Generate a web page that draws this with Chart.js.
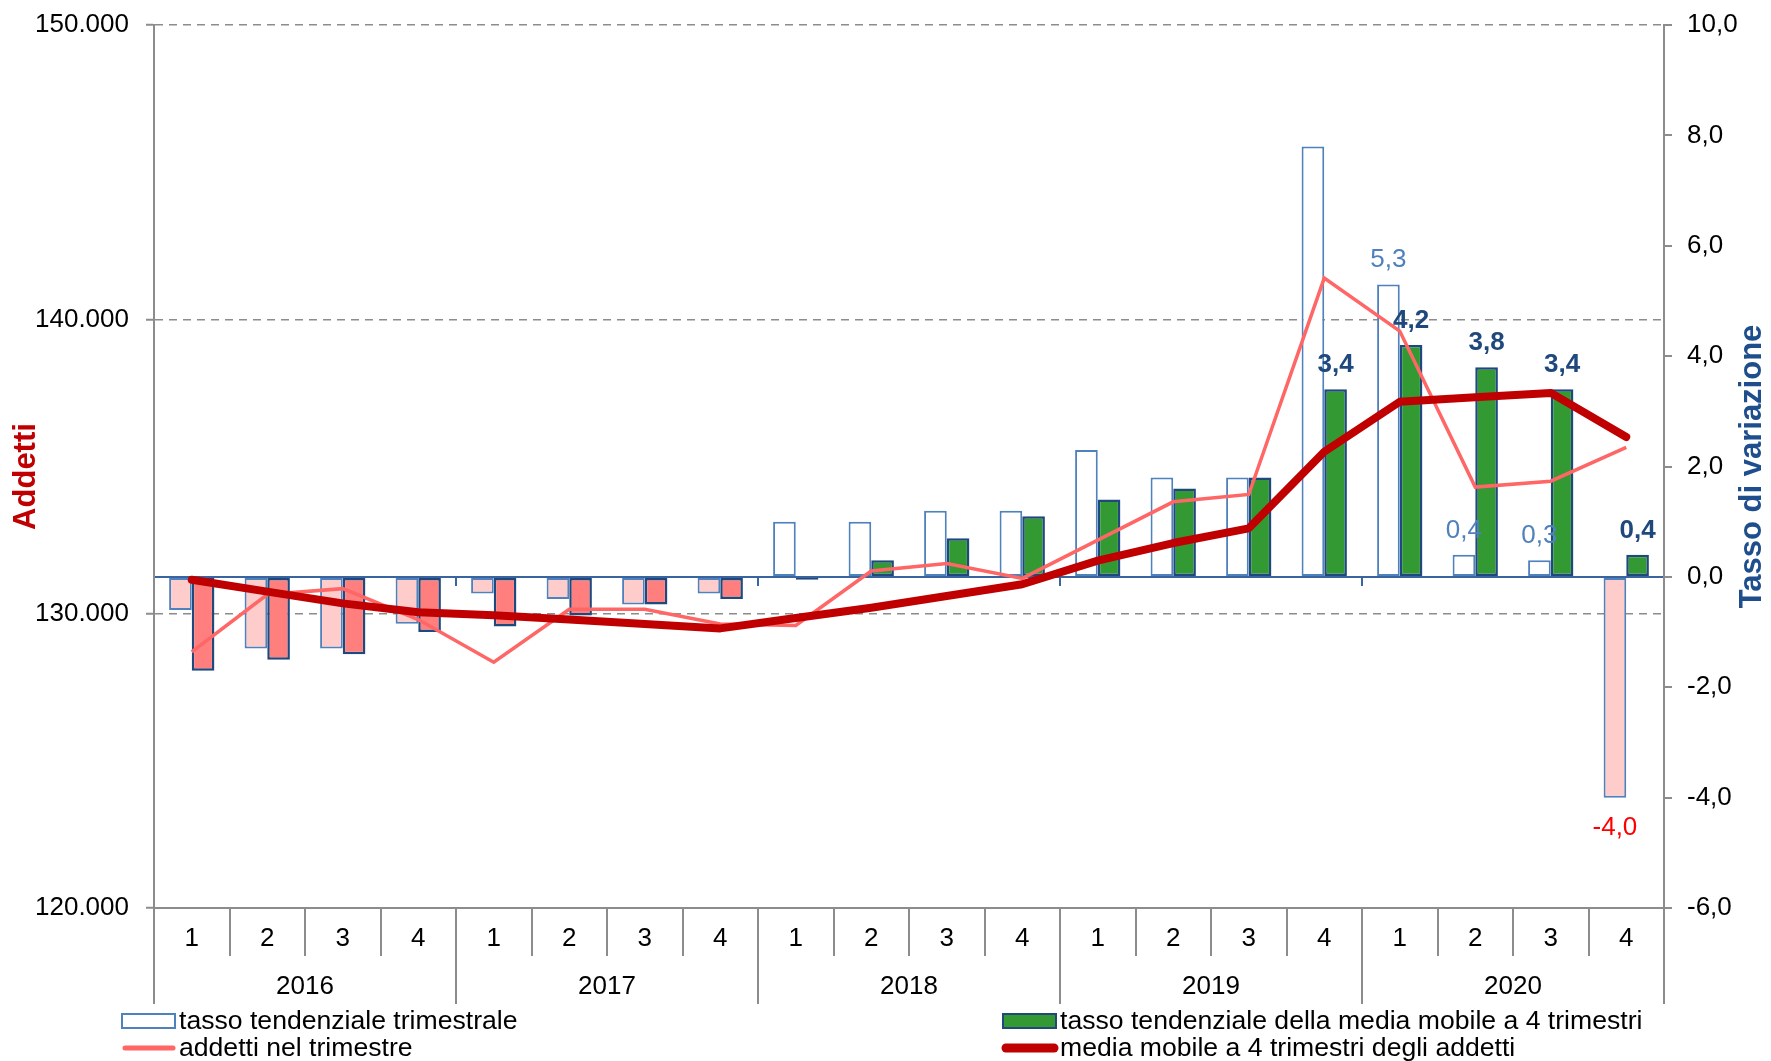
<!DOCTYPE html>
<html>
<head>
<meta charset="utf-8">
<script src="https://cdn.jsdelivr.net/npm/chart.js@4.4.1/dist/chart.umd.min.js"></script>
<style>
  html, body { margin: 0; padding: 0; background: #fff; }
  #wrap { width: 1771px; height: 1061px; position: relative; }
</style>
</head>
<body>
<div id="wrap"><canvas id="chart"></canvas></div>
<script>
const quarters = ["1", "2", "3", "4", "1", "2", "3", "4", "1", "2", "3", "4", "1", "2", "3", "4", "1", "2", "3", "4"];
const years = ["2016", "2017", "2018", "2019", "2020"];

// tassi (asse destro, %)
const tassoTrimestrale = [-0.6, -1.3, -1.3, -0.85, -0.3, -0.4, -0.5, -0.3, 1.0, 1.0, 1.2, 1.2, 2.3, 1.8, 1.8, 7.8, 5.3, 0.4, 0.3, -4.0];
const tassoMediaMobile = [-1.7, -1.5, -1.4, -1.0, -0.9, -0.7, -0.5, -0.4, -0.05, 0.3, 0.7, 1.1, 1.4, 1.6, 1.8, 3.4, 4.2, 3.8, 3.4, 0.4];

// addetti (asse sinistro)
const addettiTrimestre = [128700, 130650, 130850, 129800, 128350, 130150, 130150, 129650, 129600, 131450, 131700, 131200, 132500, 133800, 134050, 141400, 139600, 134300, 134500, 135650];
const mediaMobileAddetti = [131150, 130750, 130350, 130050, 129950, 129800, 129650, 129500, 129850, 130200, 130600, 131000, 131800, 132400, 132900, 135500, 137200, 137350, 137500, 136000];

// etichette mostrate sulle barre (indici)
const labelledTrimestrale = [16, 17, 18, 19];
const labelledMediaMobile = [15, 16, 17, 18, 19];

const FONT = '"Liberation Sans", Arial, sans-serif';
Chart.defaults.font.family = FONT;
Chart.defaults.font.size = 26;
Chart.defaults.color = "#000";

const GRAY = "#8c8c8c";
const BLUE_LIGHT = "#4F81BD";
const BLUE_DARK = "#1F497D";

function fmtThousands(v) {
  return Math.round(v).toString().replace(/\B(?=(\d{3})+(?!\d))/g, ".");
}
function fmtDec(v) {
  return v.toFixed(1).replace(".", ",");
}

const extras = {
  id: "extras",
  afterDatasetsDraw(chart) {
    const ctx = chart.ctx;
    const x = chart.scales.x;
    const y2 = chart.scales.y2;
    const zeroY = y2.getPixelForValue(0);

    // tacche degli anni sulla linea dello zero
    ctx.save();
    ctx.strokeStyle = "#3A64A0";
    ctx.lineWidth = 2;
    for (let i = 4; i < quarters.length; i += 4) {
      const px = (x.getPixelForValue(i - 1) + x.getPixelForValue(i)) / 2;
      ctx.beginPath();
      ctx.moveTo(px, zeroY);
      ctx.lineTo(px, zeroY + 9);
      ctx.stroke();
    }

    // etichette dati
    ctx.textAlign = "center";
    ctx.textBaseline = "alphabetic";
    const metaA = chart.getDatasetMeta(0);
    labelledTrimestrale.forEach((i) => {
      const el = metaA.data[i];
      const v = tassoTrimestrale[i];
      ctx.font = "26px " + FONT;
      if (v < 0) {
        ctx.fillStyle = "#FF0000";
        ctx.fillText(fmtDec(v), el.x, el.y + 37);
      } else {
        ctx.fillStyle = BLUE_LIGHT;
        ctx.fillText(fmtDec(v), el.x, el.y - 17);
      }
    });
    const metaB = chart.getDatasetMeta(1);
    labelledMediaMobile.forEach((i) => {
      const el = metaB.data[i];
      ctx.font = "bold 26px " + FONT;
      ctx.fillStyle = BLUE_DARK;
      ctx.fillText(fmtDec(tassoMediaMobile[i]), el.x, el.y - 17);
    });
    ctx.restore();
  },
  afterDraw(chart) {
    const ctx = chart.ctx;
    const area = chart.chartArea;
    const midY = (area.top + area.bottom) / 2;

    // titoli degli assi
    ctx.save();
    ctx.font = "bold 31px " + FONT;
    ctx.textAlign = "center";
    ctx.textBaseline = "middle";
    ctx.fillStyle = "#C00000";
    ctx.translate(26, midY + 10);
    ctx.rotate(-Math.PI / 2);
    ctx.fillText("Addetti", 0, 0);
    ctx.restore();

    ctx.save();
    ctx.font = "bold 31px " + FONT;
    ctx.textAlign = "center";
    ctx.textBaseline = "middle";
    ctx.fillStyle = "#1F4E8C";
    ctx.translate(1752, midY);
    ctx.rotate(-Math.PI / 2);
    ctx.fillText("Tasso di variazione", 0, 0);
    ctx.restore();

    // legenda
    const ds = chart.data.datasets;
    ctx.save();
    ctx.font = "26.6px " + FONT;
    ctx.textAlign = "left";
    ctx.textBaseline = "alphabetic";
    ctx.fillStyle = "#000";
    const cols = [122, 1003];
    const items = [
      { d: ds[0], col: 0, row: 0 },
      { d: ds[1], col: 1, row: 0 },
      { d: ds[2], col: 0, row: 1 },
      { d: ds[3], col: 1, row: 1 }
    ];
    items.forEach((it) => {
      const lx = cols[it.col];
      const base = it.row === 0 ? 1029 : 1056;
      if (it.d.type === "bar") {
        ctx.fillStyle = it.d.legendFill;
        ctx.fillRect(lx, base - 15, 53, 14);
        ctx.strokeStyle = it.d.borderColor;
        ctx.lineWidth = 2;
        ctx.strokeRect(lx, base - 15, 53, 14);
      } else {
        ctx.strokeStyle = it.d.borderColor;
        ctx.lineWidth = it.d.legendWidth;
        ctx.lineCap = "round";
        ctx.beginPath();
        ctx.moveTo(lx + 3, base - 8);
        ctx.lineTo(lx + 51, base - 8);
        ctx.stroke();
      }
      ctx.fillStyle = "#000";
      ctx.fillText(it.d.label, lx + 57, base);
    });
    ctx.restore();
  }
};

new Chart(document.getElementById("chart"), {
  type: "bar",
  data: {
    labels: quarters,
    datasets: [
      {
        type: "bar",
        label: "tasso tendenziale trimestrale",
        data: tassoTrimestrale,
        yAxisID: "y2",
        backgroundColor: (c) => (c.raw < 0 ? "#FFCCCC" : "#FFFFFF"),
        legendFill: "#FFFFFF",
        borderColor: BLUE_LIGHT,
        borderWidth: 2,
        borderSkipped: false,
        categoryPercentage: 0.6,
        barPercentage: 1.0,
        order: 3
      },
      {
        type: "bar",
        label: "tasso tendenziale della media mobile a 4 trimestri",
        data: tassoMediaMobile,
        yAxisID: "y2",
        backgroundColor: (c) => (c.raw < 0 ? "#FF7F7F" : "#339933"),
        legendFill: "#339933",
        borderColor: BLUE_DARK,
        borderWidth: 2.5,
        borderSkipped: false,
        categoryPercentage: 0.6,
        barPercentage: 1.0,
        order: 3
      },
      {
        type: "line",
        label: "addetti nel trimestre",
        data: addettiTrimestre,
        yAxisID: "y",
        borderColor: "#FF6666",
        borderWidth: 3.5,
        legendWidth: 5,
        pointRadius: 0,
        tension: 0,
        fill: false,
        order: 2
      },
      {
        type: "line",
        label: "media mobile a 4 trimestri degli addetti",
        data: mediaMobileAddetti,
        yAxisID: "y",
        borderColor: "#C00000",
        borderWidth: 8,
        legendWidth: 9,
        borderCapStyle: "round",
        borderJoinStyle: "round",
        pointRadius: 0,
        tension: 0,
        fill: false,
        order: 1
      }
    ]
  },
  options: {
    responsive: true,
    maintainAspectRatio: false,
    animation: false,
    devicePixelRatio: 1,
    layout: { padding: { top: 25, left: 0, right: 0, bottom: 57 } },
    plugins: {
      legend: { display: false },
      tooltip: { enabled: false }
    },
    scales: {
      x: {
        type: "category",
        position: "bottom",
        weight: 0,
        offset: true,
        grid: { offset: true, drawOnChartArea: false, drawTicks: true, tickLength: 48, color: GRAY, lineWidth: 2 },
        border: { color: GRAY, width: 2 },
        ticks: { padding: -33, maxRotation: 0, autoSkip: false, font: { size: 26 } },
        afterFit: (s) => { s.height = 48; }
      },
      x2: {
        type: "category",
        labels: years,
        position: "bottom",
        weight: 1,
        offset: true,
        grid: { offset: true, drawOnChartArea: false, drawTicks: true, tickLength: 48, color: GRAY, lineWidth: 2 },
        border: { display: false },
        ticks: { padding: -33, maxRotation: 0, autoSkip: false, font: { size: 26 } },
        afterFit: (s) => { s.height = 48; }
      },
      y: {
        position: "left",
        min: 120000,
        max: 150000,
        ticks: { stepSize: 10000, padding: 17, font: { size: 26, lineHeight: 0.5 }, callback: (v) => fmtThousands(v) },
        grid: { color: GRAY, lineWidth: 1.5, drawTicks: true, tickLength: 8, tickColor: GRAY, tickWidth: 2 },
        border: { color: GRAY, width: 2, dash: [8, 6] },
        afterFit: (s) => { s.width = 154; }
      },
      y2: {
        position: "right",
        min: -6,
        max: 10,
        ticks: { stepSize: 2, padding: 15, font: { size: 26, lineHeight: 0.5 }, callback: (v) => fmtDec(v) },
        grid: {
          drawOnChartArea: true,
          color: (c) => (c.tick && c.tick.value === 0 ? "#3A64A0" : "rgba(0,0,0,0)"),
          lineWidth: 2,
          drawTicks: true,
          tickLength: 8,
          tickColor: GRAY,
          tickWidth: 2
        },
        border: { color: GRAY, width: 2 },
        afterFit: (s) => { s.width = 107; }
      }
    }
  },
  plugins: [extras]
});
</script>
</body>
</html>
